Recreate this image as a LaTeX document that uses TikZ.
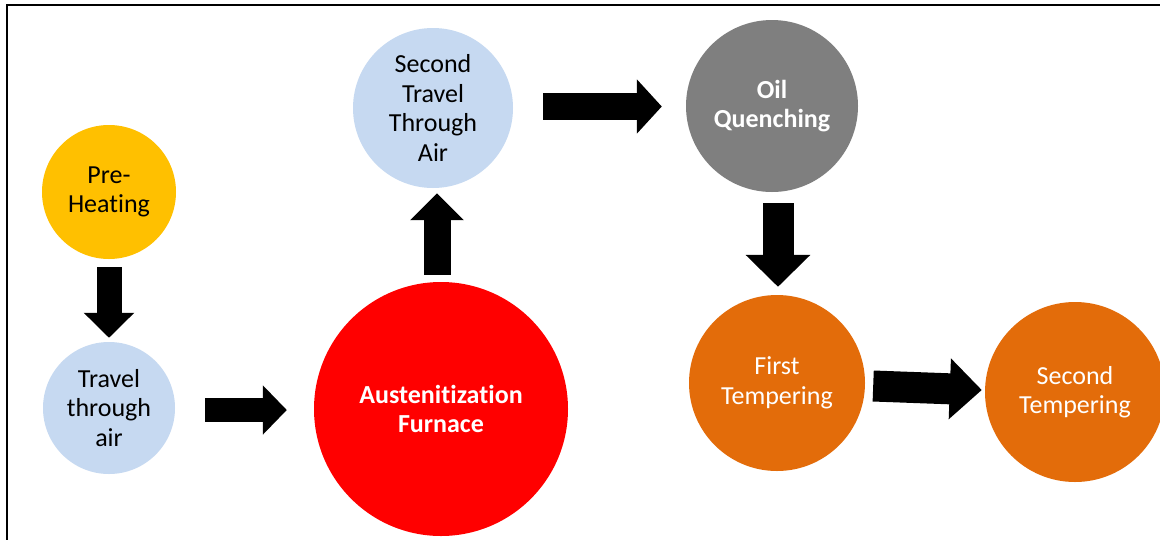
\documentclass[tikz,border=0pt]{standalone}
\usepackage{fontspec}
\setmainfont{Carlito}[Ligatures=NoCommon]
\usetikzlibrary{arrows.meta,calc}
\definecolor{cyellow}{HTML}{FFC000}
\definecolor{cblue}{HTML}{C6D9F1}
\definecolor{cred}{HTML}{FF0000}
\definecolor{cgray}{HTML}{7F7F7F}
\definecolor{corange}{HTML}{E36C0A}
\tikzset{
  stage/.style={circle, inner sep=0pt, align=center, font=\fontsize{26}{29.5}\selectfont},
  barrow/.style n args={3}{draw=black, line width=#1, -{Triangle[width=#2,length=#3]}},
}
\begin{document}
\begin{tikzpicture}[x=1pt,y=-1pt]
\clip (0,0) rectangle (1160,539);
\fill[white] (0,0) rectangle (1160,539);
\draw[line width=2.5pt] (7,5) rectangle (1180,560);

\node[stage, fill=cyellow, minimum size=134pt] (pre) at (109,192) {Pre-\\Heating};
\node[stage, fill=cblue, minimum size=132pt] (travel) at (109,408) {Travel\\through\\air};
\node[stage, fill=cred, minimum size=254pt, text=white, font=\fontsize{26}{29.5}\selectfont\bfseries] (aus) at (441,409) {Austenitization\\Furnace};
\node[stage, fill=cblue, minimum size=160pt] (st) at (433,108) {Second\\Travel\\Through\\Air};
\node[stage, fill=cgray, minimum size=172pt, text=white, font=\fontsize{26}{29.5}\selectfont\bfseries] (oil) at (772,106) {Oil\\Quenching};
\node[stage, fill=corange, minimum size=176pt, text=white] (first) at (777,383) {First\\Tempering};
\node[stage, fill=corange, minimum size=180pt, text=white] (second) at (1075,392) {Second\\Tempering};

\draw[barrow={25pt}{49pt}{25pt}] ($(pre.south)+(0,8)$) -- ($(travel.north)+(0,-4)$);
\draw[barrow={24pt}{48pt}{24pt}] ($(travel.east)+(30,2)$) -- ($(aus.west)+(-27,1)$);
\draw[barrow={27pt}{52pt}{27pt}] ($(aus.north)+(-4,-7)$) -- ($(st.south)+(4,5)$);
\draw[barrow={27pt}{53pt}{25pt}] ($(st.east)+(30,-1.5)$) -- ($(oil.west)+(-24,0.5)$);
\draw[barrow={31pt}{63pt}{32pt}] ($(oil.south)+(6,11)$) -- ($(first.north)+(1,-8)$);
\draw[barrow={31pt}{59pt}{32pt}] ($(first.east)+(8,3)$) -- ($(second.west)+(-3,-2)$);
\end{tikzpicture}
\end{document}
